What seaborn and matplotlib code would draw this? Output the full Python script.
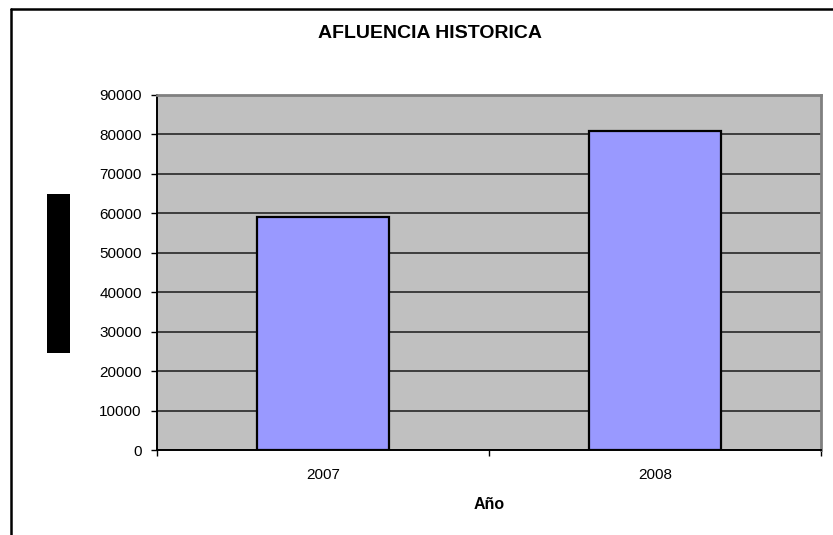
import matplotlib
matplotlib.use("Agg")
import matplotlib.pyplot as plt
import matplotlib.patches as mpatches
import matplotlib.lines as mlines
from matplotlib.ticker import FixedLocator
import seaborn as sns
import pandas as pd

# Data
years = ["2007", "2008"]
visitors = [59000, 80800]
yticks = [0, 10000, 20000, 30000, 40000, 50000, 60000, 70000, 80000, 90000]
title = "AFLUENCIA HISTORICA"
xlabel = "Año"

sns.set_style("white")
plt.rcParams['font.family'] = ['Liberation Sans', 'DejaVu Sans']
plt.rcParams['text.color'] = 'black'
plt.rcParams['axes.labelcolor'] = 'black'
plt.rcParams['xtick.color'] = 'black'
plt.rcParams['ytick.color'] = 'black'

df = pd.DataFrame({"Año": years, "Afluencia": visitors})

W, H = 833, 535
fig = plt.figure(figsize=(W / 100, H / 100), dpi=100)
fig.patch.set_facecolor("white")
ax = fig.add_axes([157 / W, 1 - 450 / H, (821 - 157) / W, (450 - 95) / H])

sns.barplot(data=df, x="Año", y="Afluencia", ax=ax, color="#9999FF",
            saturation=1, edgecolor="black", linewidth=1.6, width=0.4, zorder=3)

ax.set_facecolor("#C0C0C0")
ax.set_ylim(0, 90000)
ax.set_xlim(-0.5, 1.5)
ax.set_yticks(yticks)
ax.set_yticklabels([str(v) for v in yticks], fontsize=11)
ax.yaxis.grid(True, color="#1a1a1a", linewidth=1.1, zorder=1)
ax.xaxis.grid(False)
ax.set_axisbelow(True)

ax.tick_params(axis="y", which="major", length=4, width=1, direction="out",
               color="black", labelcolor="black", pad=7, left=True)
ax.tick_params(axis="x", which="major", length=0, pad=13, labelsize=11,
               labelcolor="black")
ax.xaxis.set_minor_locator(FixedLocator([-0.5, 0.5, 1.5]))
ax.tick_params(axis="x", which="minor", length=4, width=1, direction="out",
               color="black", bottom=True)

for s in ["left", "bottom"]:
    ax.spines[s].set_color("black")
    ax.spines[s].set_linewidth(1.4)
for s in ["top", "right"]:
    ax.spines[s].set_color("#808080")
    ax.spines[s].set_linewidth(2)

ax.set_ylabel("")
ax.set_xlabel(xlabel, fontsize=11.5, fontweight="bold", labelpad=11,
              color="black")

fig.text(430 / W, 1 - 33 / H, title, ha="center", va="center",
         fontsize=14, fontweight="bold", color="black")

# dark y-axis label block
fig.patches.append(mpatches.Rectangle((47 / W, 1 - 353 / H), 23 / W, 159 / H,
                                      transform=fig.transFigure,
                                      facecolor="black", edgecolor="none"))
# figure border (left and top visible)
fig.lines.append(mlines.Line2D([11 / W, 11 / W], [0, 1 - 9 / H],
                               transform=fig.transFigure, color="black", lw=1.8))
fig.lines.append(mlines.Line2D([11 / W, 1], [1 - 9 / H, 1 - 9 / H],
                               transform=fig.transFigure, color="black", lw=1.8))

fig.savefig("out.png", dpi=100)
